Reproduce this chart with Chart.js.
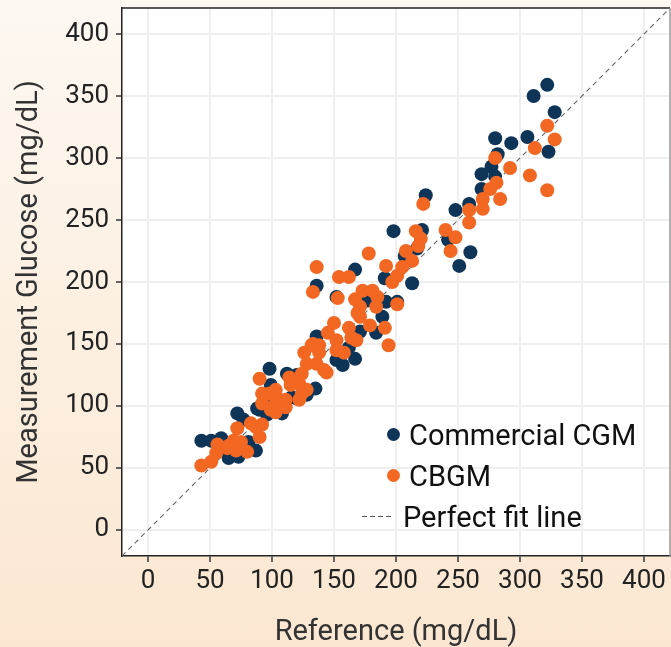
<!DOCTYPE html>
<html lang="en">
<head>
    <meta charset="UTF-8">
    <title>Measurement vs Reference Glucose</title>
    <script src="https://cdn.jsdelivr.net/npm/chart.js"></script>
    <style>
        body {
            margin: 0;
            padding: 0;
            font-family: Roboto, sans-serif;
            background: linear-gradient(to bottom, #fdf8f2, #fbe7d1);
            width: 671px;
            height: 647px;
            overflow: hidden;
        }
        #wrap {
            position: relative;
            width: 671px;
            height: 647px;
        }
        #legend {
            position: absolute;
            left: 362px;
            top: 414px;
            font-size: 29px;
            color: #111;
        }
        .item {
            display: flex;
            align-items: center;
            height: 41px;
            white-space: nowrap;
        }
        .dot {
            width: 13px;
            height: 13px;
            border-radius: 50%;
            margin: 0 9px 0 25px;
        }
        .dash {
            width: 30px;
            height: 1.5px;
            background: repeating-linear-gradient(to right, #555 0 5px, transparent 5px 8px);
            margin-right: 11px;
        }
    </style>
</head>
<body>
<div id="wrap">
    <canvas id="chart"></canvas>
    <div id="legend"></div>
</div>
<script>
    // reference value (x) vs measured value (y), mg/dL
    const cgmX = [322, 311, 328, 280, 293, 306, 323, 282, 277, 269, 280, 269, 224, 248, 259, 198, 221, 207, 217, 242,
                  260, 251, 167, 136, 191, 213, 152, 177, 192, 201, 189, 184, 171, 136, 162, 167, 157, 152, 135, 120,
                  112, 120, 98, 99, 88, 96, 108, 72, 77, 43, 51, 59, 81, 87, 65, 73, 116, 90, 128, 94];
    const cgmY = [359, 350, 337, 316, 312, 317, 305, 303, 293, 287, 285, 275, 270, 258, 263, 241, 242, 221, 227, 234,
                  224, 213, 210, 197, 203, 199, 188, 185, 184, 184, 172, 159, 160, 156, 147, 138, 133, 137, 114, 125,
                  126, 106, 130, 117, 98, 93, 94, 94, 89, 72, 72, 74, 71, 64, 58, 59, 107, 97, 109, 105];

    const cbgmX = [322, 328, 312, 280, 292, 308, 322, 281, 276, 284, 270, 270, 259, 259, 222, 240, 248, 244, 216, 220,
                   218, 208, 213, 192, 205, 201, 197, 178, 136, 154, 162, 133, 153, 167, 173, 181, 184, 171, 171, 179,
                   191, 162, 150, 145, 152, 168, 194, 158, 152, 138, 132, 126, 138, 136, 128, 144, 114, 122, 128, 115,
                   124, 111, 103, 98, 90, 92, 103, 92, 99, 111, 103, 87, 90, 92, 83, 72, 69, 65, 75, 80,
                   71, 64, 55, 51, 43, 201, 185, 164, 169, 142, 122, 106, 56, 124, 133];
    const cbgmY = [326, 315, 308, 300, 292, 286, 274, 280, 275, 267, 267, 259, 258, 248, 263, 242, 236, 225, 241, 235,
                   229, 225, 217, 213, 212, 205, 200, 223, 212, 204, 204, 192, 187, 186, 193, 193, 180, 180, 172, 165,
                   163, 163, 167, 159, 153, 153, 149, 143, 145, 149, 149, 143, 143, 134, 134, 127, 123, 118, 113, 117,
                   110, 105, 113, 110, 122, 110, 102, 102, 97, 99, 95, 83, 75, 85, 86, 82, 72, 68, 71, 63,
                   64, 66, 62, 55, 52, 182, 188, 155, 175, 129, 105, 105, 69, 126, 150];

    const fitLine = [-21, 421];
    const tickValues = [0, 50, 100, 150, 200, 250, 300, 350, 400];

    const seriesNames = ['Commercial CGM', 'CBGM', 'Perfect fit line'];
    const navy = '#0e3457';
    const orange = '#f26722';

    const toPoints = (xs, ys) => xs.map((x, i) => ({ x: x, y: ys[i] }));

    // legend in html, bottom right of the plot
    const legend = document.getElementById('legend');
    [navy, orange, null].forEach((color, i) => {
        const item = document.createElement('div');
        item.className = 'item';
        const mark = document.createElement('span');
        if (color) {
            mark.className = 'dot';
            mark.style.background = color;
        } else {
            mark.className = 'dash';
        }
        const label = document.createElement('span');
        label.textContent = seriesNames[i];
        item.appendChild(mark);
        item.appendChild(label);
        legend.appendChild(item);
    });

    const plotFrame = {
        id: 'plotFrame',
        beforeDraw(chart) {
            const { ctx, chartArea: a } = chart;
            ctx.save();
            ctx.fillStyle = '#ffffff';
            ctx.fillRect(a.left, a.top, a.right - a.left, a.bottom - a.top);
            ctx.restore();
        },
        afterDraw(chart) {
            const { ctx, chartArea: a } = chart;
            ctx.save();
            ctx.lineWidth = 1.5;
            ctx.strokeStyle = '#222';
            ctx.beginPath();
            ctx.moveTo(a.left, a.top);
            ctx.lineTo(a.right, a.top);
            ctx.stroke();
            ctx.strokeStyle = '#999';
            ctx.beginPath();
            ctx.moveTo(a.right, a.top);
            ctx.lineTo(a.right, a.bottom);
            ctx.stroke();
            ctx.restore();
        }
    };

    // no extra room for overhanging tick labels, the frame is fixed
    const noPad = s => {
        s.paddingLeft = 0;
        s.paddingRight = 0;
        s.paddingTop = 0;
        s.paddingBottom = 0;
    };

    const axisCommon = (title) => ({
        type: 'linear',
        min: -21,
        max: 421,
        afterBuildTicks: s => { s.ticks = tickValues.map(v => ({ value: v })); },
        grid: {
            color: '#efefef',
            lineWidth: 2,
            tickColor: '#333',
            tickLength: 6,
            tickWidth: 1.5
        },
        border: { color: '#222', width: 1.5 },
        ticks: {
            color: '#222',
            padding: 4,
            font: { family: 'Roboto', size: 26 }
        },
        title: {
            display: true,
            text: title,
            color: '#333',
            font: { family: 'Roboto', size: 29, lineHeight: 1.0 },
            padding: 0
        }
    });

    const xAxis = axisCommon('Reference (mg/dL)');
    xAxis.afterFit = s => { s.height = 91; noPad(s); };
    xAxis.ticks.maxRotation = 0;
    const yAxis = axisCommon('Measurement Glucose (mg/dL)');
    yAxis.afterFit = s => { s.width = 122; noPad(s); };
    yAxis.ticks.padding = 7;
    yAxis.title.padding = { top: 15, bottom: 0 };

    new Chart(document.getElementById('chart'), {
        type: 'scatter',
        data: {
            datasets: [
                {
                    label: seriesNames[0],
                    data: toPoints(cgmX, cgmY),
                    backgroundColor: navy,
                    borderWidth: 0,
                    pointRadius: 7,
                    order: 2
                },
                {
                    label: seriesNames[1],
                    data: toPoints(cbgmX, cbgmY),
                    backgroundColor: orange,
                    borderWidth: 0,
                    pointRadius: 7,
                    order: 1
                },
                {
                    type: 'line',
                    label: seriesNames[2],
                    data: toPoints(fitLine, fitLine),
                    borderColor: '#666',
                    borderWidth: 1.1,
                    borderDash: [5, 4],
                    pointRadius: 0,
                    order: 3
                }
            ]
        },
        options: {
            responsive: true,
            maintainAspectRatio: false,
            animation: false,
            layout: { autoPadding: false, padding: { top: 8, right: 1, left: 0, bottom: 0 } },
            plugins: {
                legend: { display: false },
                tooltip: { enabled: false }
            },
            scales: { x: xAxis, y: yAxis }
        },
        plugins: [plotFrame]
    });
</script>
</body>
</html>
